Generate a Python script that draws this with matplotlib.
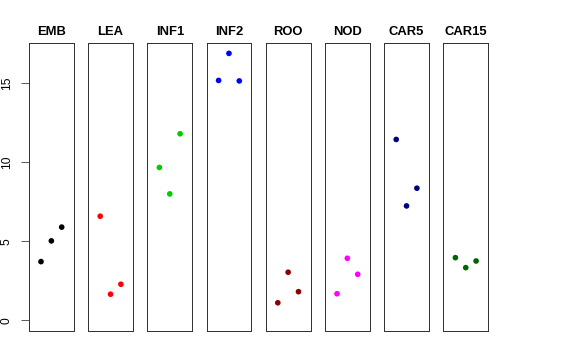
import matplotlib
matplotlib.use("Agg")
import matplotlib.pyplot as plt

plt.rcParams['font.family'] = ['Liberation Sans', 'DejaVu Sans']

groups = ['EMB', 'LEA', 'INF1', 'INF2', 'ROO', 'NOD', 'CAR5', 'CAR15']
colors = ['black', 'red', '#00CD00', 'blue', '#8B0000', 'magenta', '#000080', '#006400']
reps = [1, 2, 3]

emb = [3.71, 5.02, 5.89]
lea = [6.58, 1.65, 2.28]
inf1 = [9.66, 7.99, 11.79]
inf2 = [15.16, 16.87, 15.13]
roo = [1.11, 3.04, 1.81]
nod = [1.68, 3.92, 2.91]
car5 = [11.43, 7.23, 8.35]
car15 = [3.96, 3.33, 3.75]
values = [emb, lea, inf1, inf2, roo, nod, car5, car15]

yticks = [0, 5, 10, 15]

W, H = 576, 360
fig = plt.figure(figsize=(W / 72, H / 72), dpi=72)

# panel geometry in pixels (R-like layout)
left0, pw, step = 29, 44.7, 59.2
top, bottom = 42.7, 331

ymax = max(max(v) for v in values)
ylo, yhi = 0 - 0.04 * ymax, ymax + 0.04 * ymax

for i, (g, c, v) in enumerate(zip(groups, colors, values)):
    x0 = left0 + i * step
    ax = fig.add_axes([x0 / W, 1 - bottom / H, pw / W, (bottom - top) / H])
    ax.scatter(reps, v, s=32, color=c, edgecolors='none', zorder=3)
    ax.set_xlim(-0.16, 4.16)
    ax.set_ylim(ylo, yhi)
    ax.set_xticks([])
    for sp in ax.spines.values():
        sp.set_color('#333333')
        sp.set_linewidth(1)
    ax.set_title(g, fontsize=13, fontweight='bold', pad=8)
    if i == 0:
        ax.set_yticks(yticks)
        ax.set_yticklabels([str(t) for t in yticks], rotation=90, va='center')
        ax.tick_params(axis='y', length=8, width=0.8, pad=8, labelsize=12, color='#333333')
    else:
        ax.set_yticks([])

fig.savefig('out.png', dpi=72)
